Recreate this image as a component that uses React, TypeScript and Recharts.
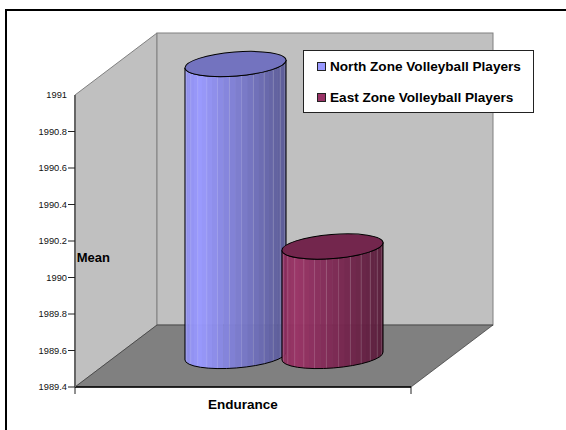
import { BarChart, Bar, XAxis, YAxis, Legend } from 'recharts';

const categories = ['Endurance'];
const northValues = [1991];
const eastValues = [1990];
const yTicks = [1989.4, 1989.6, 1989.8, 1990, 1990.2, 1990.4, 1990.6, 1990.8, 1991];

const chartData = categories.map((name, i) => ({
  name,
  north: northValues[i],
  east: eastValues[i],
}));

// front plane of the 3d box and how far back the walls go
const LEFT = 75;
const RIGHT = 411;
const TOP = 95;
const BOTTOM = 387;
const DEPTH_X = 82;
const DEPTH_Y = -62;
const FONT = '"Liberation Sans", Arial, sans-serif';

const shade = (rgb: number[], k: number) =>
  `rgb(${rgb.map((c) => Math.round(c * k)).join(',')})`;

const Cylinder = (props: any) => {
  const { x, y, width, height, rgb, id } = props;
  const cx = x + width / 2 + DEPTH_X / 2;
  const a = width / 2 + 2.2;
  const b = 12;
  const tilt = -4.5;
  const rad = (tilt * Math.PI) / 180;
  const dx = a * Math.cos(rad);
  const dy = a * Math.sin(rad);
  const topY = y + DEPTH_Y / 2;
  const botY = y + height + DEPTH_Y / 2;

  const body = `M${cx - dx} ${topY - dy} L${cx - dx} ${botY - dy} A${a} ${b} ${tilt} 0 0 ${cx + dx} ${botY + dy} L${cx + dx} ${topY + dy} A${a} ${b} ${tilt} 0 1 ${cx - dx} ${topY - dy} Z`;

  // strips round the cylinder, narrow at the edges
  const strips = [];
  const n = 26;
  for (let i = 0; i < n; i++) {
    const x0 = cx - dx * Math.cos((i / n) * Math.PI);
    const x1 = cx - dx * Math.cos(((i + 1) / n) * Math.PI);
    const t = ((x0 + x1) / 2 - (cx - dx)) / (2 * dx);
    const k = t < 0.15 ? 0.93 + (t / 0.15) * 0.07 : 1 - ((t - 0.15) / 0.85) * 0.42;
    strips.push(
      <rect key={i} x={x0} y={topY - b - 10} width={x1 - x0 + 0.4} height={botY - topY + 2 * b + 20} fill={shade(rgb, k)} />,
    );
    if (i > 0 && i % 2 === 0) {
      strips.push(
        <line key={`s${i}`} x1={x0} x2={x0} y1={topY - b - 10} y2={botY + b + 10} stroke="#fff" strokeOpacity={0.16} />,
      );
    }
  }

  return (
    <g>
      <clipPath id={id}>
        <path d={body} />
      </clipPath>
      <g clipPath={`url(#${id})`} opacity={0.97}>{strips}</g>
      <path d={body} fill="none" stroke="#000" strokeWidth={1} />
      <ellipse
        cx={cx}
        cy={topY}
        rx={a}
        ry={b}
        transform={`rotate(${tilt} ${cx} ${topY})`}
        fill={shade(rgb, 0.75)}
        stroke="#000"
        strokeWidth={1}
      />
    </g>
  );
};

// the top tick has its label but no tick mark
const YTick = ({ y, payload }: any) => (
  <g>
    {payload.value !== yTicks[yTicks.length - 1] && (
      <rect x={LEFT - 7} y={y - 0.5} width={7} height={1} fill="#222" stroke="none" />
    )}
    <text x={LEFT - 8} y={y} dy="0.355em" textAnchor="end" fontFamily={FONT} fontSize={9.3} fill="#111">
      {payload.value}
    </text>
  </g>
);

const LegendBox = ({ payload }: any) => (
  <div
    style={{
      boxSizing: 'border-box',
      width: 231,
      height: 63,
      background: '#fff',
      border: '1px solid #222',
      fontFamily: FONT,
      fontWeight: 'bold',
      fontSize: 13.6,
      color: '#000',
    }}
  >
    {(payload || []).map((item: any) => (
      <div key={item.value} style={{ display: 'flex', alignItems: 'center', height: 31, paddingLeft: 13 }}>
        <span
          style={{
            boxSizing: 'border-box',
            width: 9,
            height: 9,
            marginRight: 4,
            background: item.color,
            border: '1px solid #222',
          }}
        />
        {item.value}
      </div>
    ))}
  </div>
);

const App = () => (
  <div style={{ position: 'absolute', left: 0, top: 0, width: 566, height: 430, background: '#fff', overflow: 'hidden' }}>
    <div
      style={{
        position: 'absolute',
        left: 5,
        top: 9,
        right: -4,
        bottom: -4,
        borderLeft: '2px solid #000',
        borderTop: '2px solid #000',
      }}
    />
    <BarChart
      width={566}
      height={430}
      data={chartData}
      margin={{ top: TOP, right: 566 - RIGHT, bottom: 0, left: 0 }}
      barCategoryGap={71}
      barGap={0}
      style={{ position: 'absolute', left: 0, top: 0 }}
    >
      {/* left wall, back wall, floor */}
      <polygon
        points={`${LEFT},${TOP} ${LEFT + DEPTH_X},${TOP + DEPTH_Y} ${LEFT + DEPTH_X},${BOTTOM + DEPTH_Y} ${LEFT},${BOTTOM}`}
        fill="#c0c0c0"
        stroke="#808080"
      />
      <rect
        x={LEFT + DEPTH_X}
        y={TOP + DEPTH_Y}
        width={RIGHT - LEFT}
        height={BOTTOM - TOP}
        fill="#c0c0c0"
        stroke="#808080"
      />
      <polygon
        points={`${LEFT},${BOTTOM} ${LEFT + DEPTH_X},${BOTTOM + DEPTH_Y} ${RIGHT + DEPTH_X},${BOTTOM + DEPTH_Y} ${RIGHT},${BOTTOM}`}
        fill="#808080"
        stroke="#333"
        strokeWidth={0.7}
      />
      <XAxis
        dataKey="name"
        height={430 - BOTTOM}
        tick={false}
        tickLine={false}
        axisLine={{ stroke: '#000', strokeWidth: 1.3 }}
        label={{
          value: 'Endurance',
          position: 'insideTop',
          offset: 12,
          style: { fontFamily: FONT, fontWeight: 'bold', fontSize: 13.5, fill: '#000' },
        }}
      />
      <YAxis
        width={LEFT}
        domain={[1989.4, 1991]}
        ticks={yTicks}
        interval={0}
        tickSize={7}
        tickLine={false}
        tick={<YTick />}
        axisLine={{ stroke: '#666', strokeWidth: 2 }}
        label={{
          value: 'Mean',
          position: 'insideRight',
          dx: 40,
          dy: 16,
          style: { fontFamily: FONT, fontWeight: 'bold', fontSize: 13, fill: '#000' },
        }}
      />
      <line x1={LEFT} x2={LEFT} y1={BOTTOM} y2={BOTTOM + 7} stroke="#222" />
      <line x1={RIGHT} x2={RIGHT} y1={BOTTOM} y2={BOTTOM + 7} stroke="#222" />
      <Legend
        layout="vertical"
        align="center"
        verticalAlign="middle"
        itemSorter={null}
        wrapperStyle={{ left: 303, top: 50, width: 231, height: 63 }}
        content={<LegendBox />}
      />
      <Bar
        dataKey="north"
        name="North Zone Volleyball Players"
        fill="#9999ff"
        isAnimationActive={false}
        shape={(p: any) => <Cylinder {...p} rgb={[153, 153, 255]} id="clipNorth" />}
      />
      <Bar
        dataKey="east"
        name="East Zone Volleyball Players"
        fill="#993366"
        isAnimationActive={false}
        shape={(p: any) => <Cylinder {...p} rgb={[153, 51, 102]} id="clipEast" />}
      />
    </BarChart>
  </div>
);

export default App;
